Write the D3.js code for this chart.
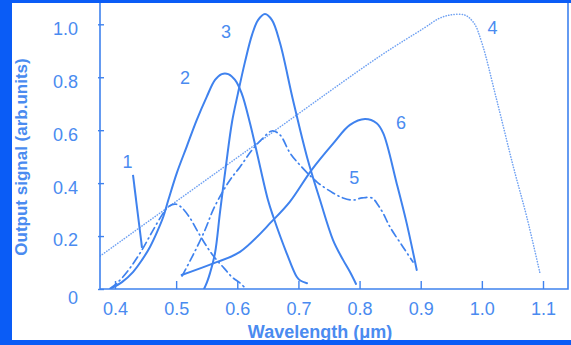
<!DOCTYPE html>
<html>
<head>
<meta charset="utf-8">
<script src="https://cdn.jsdelivr.net/npm/d3@7"></script>
<style>
  html, body { margin: 0; padding: 0; background: #fff; }
  svg { display: block; }
</style>
</head>
<body>
<svg width="571" height="345"></svg>
<script>
// tick values
const xTicks = [0.4, 0.5, 0.6, 0.7, 0.8, 0.9, 1.0, 1.1];
const yTicks = [0, 0.2, 0.4, 0.6, 0.8, 1.0];

// curves: [wavelength, signal]
const curve1 = [[0.392, 0.002], [0.405, 0.026], [0.4245, 0.079], [0.444, 0.147], [0.4605, 0.215],
  [0.477, 0.28], [0.4867, 0.31], [0.498, 0.321], [0.508, 0.31], [0.5227, 0.268], [0.5358, 0.215],
  [0.5505, 0.159], [0.5636, 0.117], [0.5783, 0.079], [0.5914, 0.045], [0.6044, 0.023], [0.611, 0.008]];
const curve2 = [[0.395, 0.004], [0.4114, 0.026], [0.4294, 0.064], [0.4442, 0.11], [0.4572, 0.159],
  [0.4687, 0.215], [0.479, 0.273], [0.4872, 0.336], [0.5009, 0.437], [0.5173, 0.538], [0.5336, 0.638],
  [0.55, 0.726], [0.5636, 0.79], [0.5745, 0.812], [0.5853, 0.812], [0.5963, 0.79], [0.6072, 0.739],
  [0.6208, 0.626], [0.6322, 0.514], [0.6502, 0.336], [0.6589, 0.273], [0.6808, 0.135], [0.6972, 0.046],
  [0.703, 0.032], [0.714, 0.022]];
const curve3 = [[0.5456, 0.0], [0.5505, 0.026], [0.5554, 0.06], [0.5636, 0.136], [0.5718, 0.291],
  [0.5816, 0.468], [0.5914, 0.631], [0.6012, 0.74], [0.6126, 0.858], [0.6241, 0.96], [0.6339, 1.016],
  [0.6453, 1.039], [0.6568, 1.016], [0.6699, 0.929], [0.6911, 0.714], [0.714, 0.499], [0.7353, 0.336],
  [0.7566, 0.185], [0.773, 0.11], [0.7844, 0.064], [0.7942, 0.019]];
const curve4 = [[0.376, 0.125], [0.6535, 0.585], [0.8334, 0.88], [0.905, 0.985], [0.93, 1.022],
  [0.948, 1.035], [0.972, 1.035], [0.987, 1.005], [1.0, 0.93], [1.0243, 0.714], [1.0515, 0.462],
  [1.0734, 0.273], [1.0951, 0.059]];
const curve5 = [[0.5096, 0.049], [0.5276, 0.128], [0.5472, 0.223], [0.5603, 0.298], [0.575, 0.363],
  [0.5881, 0.412], [0.6044, 0.461], [0.6241, 0.525], [0.642, 0.57], [0.6568, 0.597], [0.6699, 0.582],
  [0.6862, 0.514], [0.7026, 0.468], [0.7304, 0.404], [0.7566, 0.363], [0.7729, 0.344], [0.7893, 0.336],
  [0.804, 0.344], [0.8203, 0.344], [0.8302, 0.317], [0.8383, 0.287], [0.8498, 0.234], [0.871, 0.159],
  [0.8874, 0.102]];
const curve6 = [[0.509, 0.053], [0.5608, 0.097], [0.6044, 0.14], [0.6589, 0.261], [0.6862, 0.33],
  [0.7217, 0.45], [0.757, 0.55], [0.7843, 0.62], [0.8089, 0.642], [0.828, 0.626], [0.8388, 0.588],
  [0.8607, 0.399], [0.8771, 0.248], [0.8935, 0.072]];

// curve numbers and where they sit, in data units
const labelText = ["1", "2", "3", "4", "5", "6"];
const labelAt = [[0.4205, 0.482], [0.5145, 0.799], [0.5815, 0.973], [1.0175, 0.988], [0.7913, 0.422], [0.8677, 0.629]];
const leader1 = [[0.4294, 0.431], [0.4442, 0.155]];

const lineColor = "#3f82ee";
const textColor = "#4a8bf0";
const frameColor = "#0a5cf6";
const font = "'Liberation Sans', Arial, Helvetica, sans-serif";

const plotLeft = 100, plotRight = 568, plotTop = 3, plotBottom = 289;

let svg = d3.select("svg");

const x = d3.scaleLinear().domain([0.4, 1.1]).range([115, 543]);
const y = d3.scaleLinear().domain([0, 1]).range([289, 24.3]);

svg.append("defs").append("clipPath").attr("id", "plotClip")
  .append("rect")
  .attr("x", plotLeft).attr("y", plotTop)
  .attr("width", plotRight - plotLeft).attr("height", plotBottom - plotTop);

// axes
let xAxis = svg.append("g")
  .attr("transform", `translate(0,${plotBottom})`)
  .call(d3.axisBottom(x).tickValues(xTicks).tickFormat(d3.format(".1f"))
    .tickSizeInner(-8).tickSizeOuter(0).tickPadding(13));
xAxis.select(".domain").remove();
xAxis.selectAll("line").attr("stroke", lineColor).attr("stroke-width", 1.4);
xAxis.selectAll("text").attr("fill", textColor).style("font-family", font).style("font-size", "18px");

let yAxis = svg.append("g")
  .attr("transform", `translate(${plotLeft},0)`)
  .call(d3.axisLeft(y).tickValues(yTicks).tickFormat(d => d === 0 ? "0" : d3.format(".1f")(d))
    .tickSizeInner(-4).tickSizeOuter(0).tickPadding(22));
yAxis.select(".domain").remove();
yAxis.selectAll("line").attr("stroke", lineColor).attr("stroke-width", 1.4).attr("x1", -2);
yAxis.selectAll("text").attr("fill", textColor).style("font-family", font).style("font-size", "18px")
  .attr("dy", d => d === 0 ? "0.78em" : "0.55em");

// plot frame
svg.append("path")
  .attr("d", `M${plotLeft},${plotTop}V${plotBottom}H${plotRight}V${plotTop}`)
  .attr("fill", "none").attr("stroke", lineColor).attr("stroke-width", 1.6);

// curves
const line = d3.line().x(d => x(d[0])).y(d => y(d[1])).curve(d3.curveCatmullRom.alpha(0.5));
let curves = svg.append("g").attr("clip-path", "url(#plotClip)");

function drawCurve(data, dash, width, opacity) {
  curves.append("path")
    .datum(data)
    .attr("d", line)
    .attr("fill", "none")
    .attr("stroke", lineColor)
    .attr("stroke-width", width)
    .attr("stroke-opacity", opacity)
    .attr("stroke-linecap", "round")
    .attr("stroke-dasharray", dash);
}

drawCurve(curve1, "8,4,1,4", 1.7, 1);
drawCurve(curve2, null, 2, 1);
drawCurve(curve3, null, 2, 1);
drawCurve(curve4, "0.3,2.4", 1.5, 0.75);
drawCurve(curve5, "8,4,1,4", 1.7, 1);
drawCurve(curve6, null, 2, 1);

svg.append("path")
  .datum(leader1)
  .attr("d", d3.line().x(d => x(d[0])).y(d => y(d[1])))
  .attr("stroke", lineColor).attr("stroke-width", 2).attr("fill", "none");

svg.selectAll(".curve-label")
  .data(labelText)
  .enter().append("text")
  .attr("class", "curve-label")
  .attr("x", (d, i) => x(labelAt[i][0]))
  .attr("y", (d, i) => y(labelAt[i][1]))
  .attr("dy", "0.35em")
  .attr("text-anchor", "middle")
  .attr("fill", textColor)
  .style("font-family", font).style("font-size", "18px")
  .text(d => d);

// axis titles
svg.append("text")
  .attr("x", 320).attr("y", 338)
  .attr("text-anchor", "middle")
  .attr("fill", textColor)
  .style("font-family", font).style("font-size", "18px").style("font-weight", "bold")
  .text("Wavelength (μm)");

svg.append("text")
  .attr("transform", "translate(27,157) rotate(-90)")
  .attr("text-anchor", "middle")
  .attr("fill", textColor)
  .style("font-family", font).style("font-size", "17px").style("font-weight", "bold")
  .text("Output signal (arb.units)");

// blue border around the figure
svg.append("rect").attr("x", 0).attr("y", 0).attr("width", 571).attr("height", 3).attr("fill", frameColor);
svg.append("rect").attr("x", 0).attr("y", 0).attr("width", 12).attr("height", 345).attr("fill", frameColor);
svg.append("rect").attr("x", 0).attr("y", 340).attr("width", 571).attr("height", 5).attr("fill", frameColor);
</script>
</body>
</html>
